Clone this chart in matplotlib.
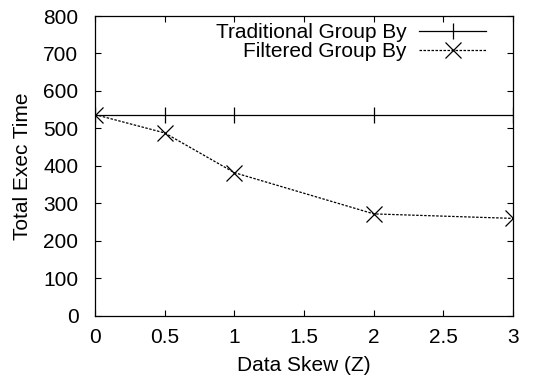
import matplotlib
matplotlib.use("Agg")
import matplotlib.pyplot as plt

plt.rcParams['font.family'] = ['Liberation Sans', 'DejaVu Sans']

skew = [0, 0.5, 1, 2, 3]
traditional = [537, 537, 537, 537, 537]
filtered = [537, 488, 382, 272, 260]

fig = plt.figure(figsize=(5.34, 3.81), dpi=100)
ax = fig.add_axes([0.178, 0.171, 0.783, 0.787])

ax.plot(skew, traditional, color="black", linewidth=0.9, marker="|",
        markersize=12, markeredgewidth=0.9, label="Traditional Group By")
ax.plot(skew, filtered, color="black", linewidth=0.9, linestyle=(0, (2, 1.2)),
        marker="x", markersize=11, markeredgewidth=0.9, label="Filtered Group By")

ax.set_xlim(0, 3)
ax.set_ylim(0, 800)
ax.set_xticks([0, 0.5, 1, 1.5, 2, 2.5, 3])
ax.set_xticklabels(["0", "0.5", "1", "1.5", "2", "2.5", "3"])
ax.set_yticks(range(0, 801, 100))
ax.tick_params(direction="in", top=True, right=True, length=4, width=0.8,
               labelsize=15)
ax.tick_params(axis="x", pad=9)
ax.tick_params(axis="y", pad=12)
for s in ax.spines.values():
    s.set_linewidth(0.9)

ax.set_xlabel("Data Skew (Z)", fontsize=15, labelpad=6)
ax.set_ylabel("Total Exec Time", fontsize=15, labelpad=8)

ax.legend(loc="upper right", frameon=False, markerfirst=False, fontsize=15,
          handlelength=3.2, handletextpad=0.6, labelspacing=0.0,
          borderaxespad=0.2, bbox_to_anchor=(0.965, 1.018))

fig.savefig("out.png", dpi=100)
